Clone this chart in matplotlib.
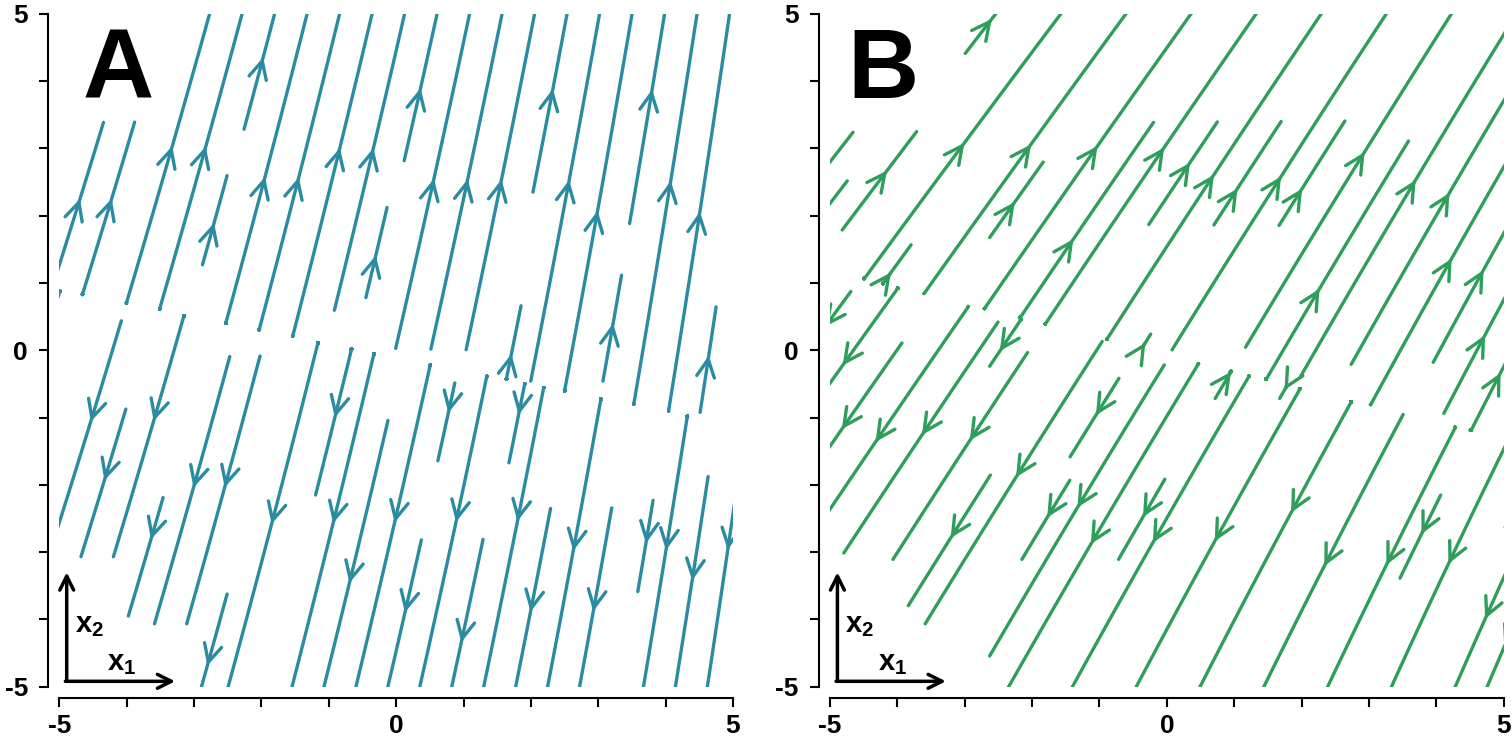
import numpy as np
import matplotlib
matplotlib.use('Agg')
import matplotlib.pyplot as plt

plt.rcParams['font.family'] = ['Liberation Sans', 'DejaVu Sans']
plt.rcParams['mathtext.fontset'] = 'custom'
plt.rcParams['mathtext.bf'] = 'Liberation Sans:bold'
plt.rcParams['mathtext.rm'] = 'Liberation Sans'

# ---- chart values -------------------------------------------------------
axis_limits = [-5, 5]
field_limits = [-5.5, 5.5]
tick_positions = [-5, -4, -3, -2, -1, 0, 1, 2, 3, 4, 5]
tick_labels = ['-5', '', '', '', '', '0', '', '', '', '', '5']
panel_labels = ['A', 'B']
panel_colors = ['#2b8ba0', '#2e9e5a']
# dividing line between upward and downward flow: x2 = slope * x1 + intercept
sep_slope = [-0.20, -0.25]
sep_intercept = [-0.11, -0.07]
# tilt of trajectories dx1/dx2 = base + tx * x1 + ty * x2
tilt_base = [0.23, 0.62]
tilt_x = [-0.017, -0.02]
tilt_y = [0.0, 0.02]
# regions left empty (label and axis-arrow inset), in data units: x0, x1, y0, y1
label_boxes = [[-4.85, -3.2, 3.5, 5.6], [-4.85, -3.3, 3.5, 5.6]]
inset_boxes = [[[-5.6, -3.15, -5.6, -4.3], [-5.6, -4.05, -5.6, -3.35]],
               [[-5.6, -3.15, -5.6, -4.3], [-5.6, -4.05, -5.6, -3.35]]]

fig = plt.figure(figsize=(15.12, 7.41), dpi=100)
ax_lefts = [59.3 / 1512, 830 / 1512]
ax_w = 673.7 / 1512
ax_b = (741 - 686.7) / 741
ax_h = 673 / 741

g = np.linspace(field_limits[0], field_limits[1], 133)
X, Y = np.meshgrid(g, g)

for i in range(2):
    ax = fig.add_axes([ax_lefts[i], ax_b, ax_w, ax_h])
    s = Y - (sep_slope[i] * X + sep_intercept[i])
    T = tilt_base[i] + tilt_x[i] * X + tilt_y[i] * Y
    U = s * T
    V = s.copy()
    mask = np.zeros_like(U, dtype=bool)
    for (x0, x1, y0, y1) in [label_boxes[i]] + inset_boxes[i]:
        mask |= (X >= x0) & (X <= x1) & (Y >= y0) & (Y <= y1)
    U = np.ma.masked_where(mask, U)
    V = np.ma.masked_where(mask, V)
    sp = ax.streamplot(g, g, U, V, density=0.82, color=panel_colors[i],
                       linewidth=2.4, arrowsize=3.2, arrowstyle='->')
    sp.lines.set_capstyle('round')

    ax.set_xlim(axis_limits)
    ax.set_ylim(axis_limits)
    for sp_name in ['top', 'right']:
        ax.spines[sp_name].set_visible(False)
    for sp_name in ['left', 'bottom']:
        ax.spines[sp_name].set_position(('outward', 8))
        ax.spines[sp_name].set_linewidth(1.5)
        ax.spines[sp_name].set_bounds(axis_limits[0], axis_limits[1])
    ax.set_xticks(tick_positions)
    ax.set_yticks(tick_positions)
    ax.set_xticklabels(tick_labels)
    ax.set_yticklabels(tick_labels)
    ax.tick_params(width=1.5, length=6.5, labelsize=19)
    ax.tick_params(axis='x', pad=5)
    ax.tick_params(axis='y', pad=8)
    for lab in ax.get_xticklabels() + ax.get_yticklabels():
        lab.set_fontweight('bold')

    ax.text(-4.66 if i == 0 else -4.74, 3.75, panel_labels[i], fontsize=71,
            fontweight='bold', ha='left', va='baseline')

    # axis-direction inset
    ox, oy = -4.89, -4.92
    ax.annotate('', xy=(ox, -3.3), xytext=(ox, oy),
                arrowprops=dict(arrowstyle='->', lw=2.5, color='k',
                                mutation_scale=25, shrinkA=0, shrinkB=0))
    ax.annotate('', xy=(-3.28, oy), xytext=(ox - 0.02, oy),
                arrowprops=dict(arrowstyle='->', lw=2.5, color='k',
                                mutation_scale=25, shrinkA=0, shrinkB=0))
    ax.text(-4.77, -4.19, r'$\mathbf{x_2}$', fontsize=21, ha='left', va='baseline')
    ax.text(-4.29, -4.75, r'$\mathbf{x_1}$', fontsize=21, ha='left', va='baseline')

fig.savefig('out.png', dpi=100)
